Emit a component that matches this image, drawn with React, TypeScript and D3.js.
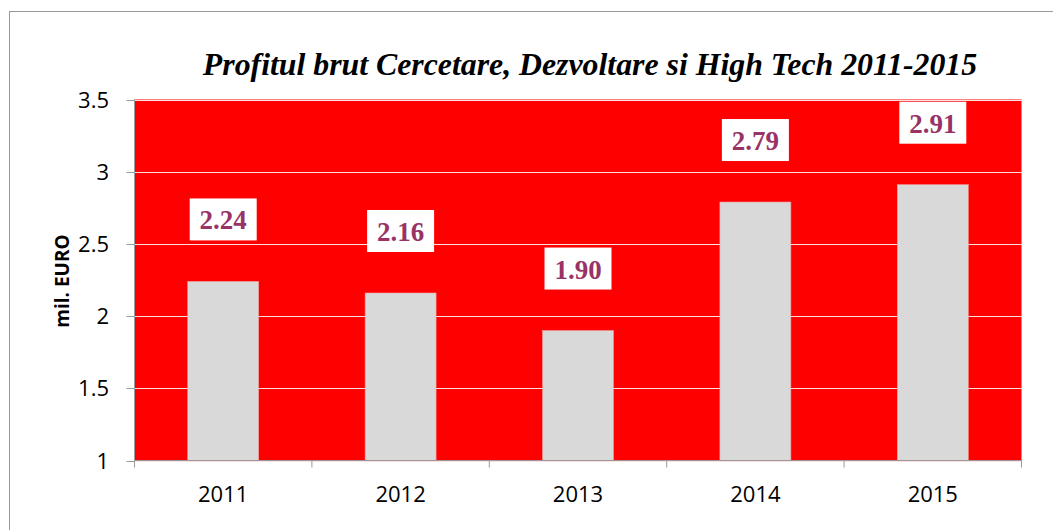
import React from "react";
import * as d3 from "d3";

const years = ["2011", "2012", "2013", "2014", "2015"];
const values = [2.24, 2.16, 1.9, 2.79, 2.91];
const yTicks = [1, 1.5, 2, 2.5, 3, 3.5];
const title = "Profitul brut Cercetare, Dezvoltare si High Tech 2011-2015";
const yLabel = "mil. EURO";

export default function App() {
  const W = 1053, H = 530;
  const left = 134.5, right = 1021.5, top = 99.5, bottom = 460.5;
  const x = d3.scaleBand<string>().domain(years).range([left, right]).paddingInner(0.6).paddingOuter(0.3);
  const band = d3.scaleBand<string>().domain(years).range([left, right]);
  const y = d3.scaleLinear().domain([1, 3.5]).range([bottom, top]);
  const tickFont = "'Open Sans', sans-serif";
  const serif = "'Liberation Serif'";
  return (
    <svg width={W} height={H} style={{ position: "absolute", left: 0, top: 0, background: "#fff" }}>
      <rect x={9.5} y={11.5} width={1100} height={600} fill="#fff" stroke="#999" strokeWidth={1} />
      <text x={590} y={75} textAnchor="middle" fontFamily={serif} fontWeight="bold" fontStyle="italic" fontSize={31.8} fill="#000">{title}</text>
      <rect x={left} y={top} width={right - left} height={bottom - top} fill="#ff0000" />
      {yTicks.map((t) => (
        <line key={"g" + t} x1={left} x2={right} y1={Math.round(y(t)) + 0.5} y2={Math.round(y(t)) + 0.5} stroke="#ffe0e0" strokeWidth={1} />
      ))}
      {years.map((yr, i) => (
        <rect key={"b" + yr} x={x(yr)!} y={y(values[i])} width={x.bandwidth()} height={bottom - y(values[i])} fill="#d9d9d9" stroke="#f0a0a0" strokeWidth={0.6} />
      ))}
      <line x1={left} x2={left} y1={top} y2={bottom} stroke="#9a9a9a" />
      <line x1={left} x2={right} y1={bottom} y2={bottom} stroke="#9a9a9a" />
      {yTicks.map((t) => (
        <g key={"t" + t}>
          <line x1={left - 8} x2={left} y1={Math.round(y(t)) + 0.5} y2={Math.round(y(t)) + 0.5} stroke="#9a9a9a" />
          <text x={109} y={y(t) + 8} textAnchor="end" fontFamily={tickFont} fontSize={22} fill="#000">{String(t)}</text>
        </g>
      ))}
      {years.map((yr) => (
        <line key={"xt" + yr} x1={band(yr)!} x2={band(yr)!} y1={bottom} y2={bottom + 7} stroke="#9a9a9a" />
      ))}
      <line x1={right} x2={right} y1={bottom} y2={bottom + 7} stroke="#9a9a9a" />
      {years.map((yr) => (
        <text key={"xl" + yr} x={band(yr)! + band.bandwidth() / 2} y={502} textAnchor="middle" fontFamily={tickFont} fontSize={22} fill="#000">{yr}</text>
      ))}
      <text transform={`translate(69,${281}) rotate(-90)`} textAnchor="middle" fontFamily={tickFont} fontWeight="bold" fontSize={19} fill="#000">{yLabel}</text>
      {years.map((yr, i) => {
        const cx = band(yr)! + band.bandwidth() / 2;
        const by = y(values[i]) - 41;
        return (
          <g key={"l" + yr}>
            <rect x={cx - 33.5} y={by - 42} width={67} height={42} fill="#fff" />
            <text x={cx} y={by - 11} textAnchor="middle" fontFamily={serif} fontWeight="bold" fontSize={27} fill="#993366">{values[i].toFixed(2)}</text>
          </g>
        );
      })}
    </svg>
  );
}
